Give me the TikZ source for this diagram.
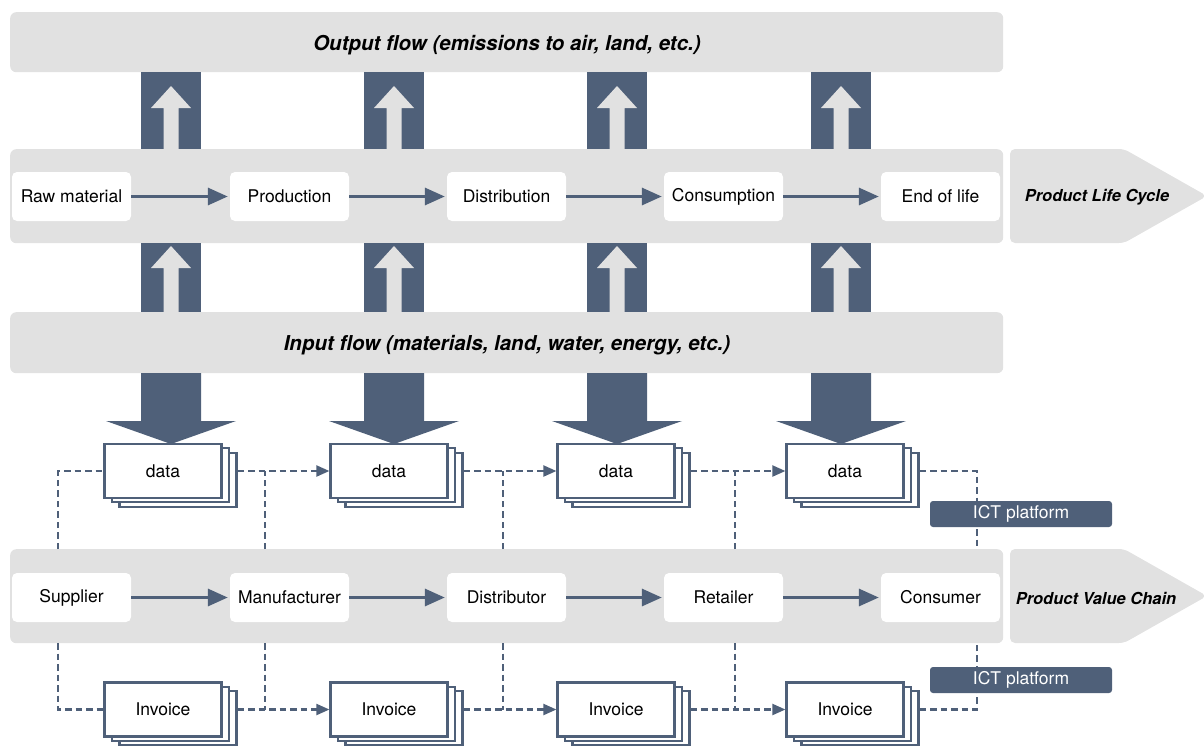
\documentclass[tikz,border=0pt]{standalone}
\usepackage{fontspec}
\setmainfont{TeX Gyre Heros}
\usetikzlibrary{arrows.meta,shadows}
\definecolor{slate}{HTML}{4F6079}
\definecolor{band}{HTML}{E1E1E1}

\begin{document}
\begin{tikzpicture}[x=1pt,y=-1pt,
  bar/.style={fill=band, rounded corners=6pt, anchor=north west, inner sep=0pt, minimum width=993pt},
  bartitle/.style={font=\fontsize{20.5}{24}\selectfont\bfseries\itshape, inner sep=0pt},
  stage/.style={fill=white, rounded corners=5pt, minimum width=119pt, minimum height=49pt,
    inner sep=0pt, font=\fontsize{17.5}{20}\selectfont},
  flow/.style={draw=slate, line width=3.2pt, -{Triangle[length=20pt,width=17pt]}, shorten >=2pt},
  stack/.style={draw=slate, line width=2.2pt, fill=white, minimum width=117pt, minimum height=54pt,
    inner sep=0pt, font=\fontsize{17.5}{20}\selectfont,
    general shadow={shadow xshift=15pt, shadow yshift=-8.6pt, draw=slate, fill=white, line width=2.2pt},
    general shadow={shadow xshift=7.5pt, shadow yshift=-4.3pt, draw=slate, fill=white, line width=2.2pt}},
  dashline/.style={draw=slate, line width=2.1pt, dash pattern=on 6.5pt off 4pt},
  dasharrow/.style={dashline, -{Triangle[length=13pt,width=11pt]}},
  ict/.style={fill=slate, rounded corners=3pt, text=white, minimum width=182pt, minimum height=26pt,
    inner sep=0pt, font=\fontsize{17.5}{20}\selectfont},
  chevlabel/.style={font=\fontsize{16.5}{20}\selectfont\bfseries\itshape, inner sep=0pt},
]
\useasboundingbox (0,0) rectangle (1204,745);

% horizontal bands
\node[bar, minimum height=60pt] (outbar) at (10,12) {};
\node[bar, minimum height=94pt] (lcbar) at (10,149) {};
\node[bar, minimum height=61pt] (inbar) at (10,312) {};
\node[bar, minimum height=94pt] (vcbar) at (10,549) {};
\node[bartitle] (outtitle) at (507,45) {Output flow (emissions to air, land, etc.)};
\node[bartitle] (intitle) at (507,345.5) {Input flow (materials, land, water, energy, etc.)};

% chevrons at the right
\fill[band, rounded corners=5pt] (1010,149) -- (1124,149) -- (1207,196) -- (1124,243) -- (1010,243) -- cycle;
\fill[band, rounded corners=5pt] (1010,549) -- (1124,549) -- (1207,596) -- (1124,643) -- (1010,643) -- cycle;
\node[chevlabel] (plc) at (1097,197.5) {Product Life Cycle};
\node[chevlabel] (pvc) at (1096,598.5) {Product Value Chain};

% block arrows for the material flows
\foreach \c in {171,394,617,841} {
  \fill[slate] (\c-30,72) rectangle (\c+30,149);
  \fill[band] (\c,86) -- (\c+20,108) -- (\c+7.5,108) -- (\c+7.5,149) -- (\c-7.5,149)
    -- (\c-7.5,108) -- (\c-20,108) -- cycle;
  \fill[slate] (\c-30,243) rectangle (\c+30,312);
  \fill[band] (\c,246) -- (\c+20,268) -- (\c+7.5,268) -- (\c+7.5,312) -- (\c-7.5,312)
    -- (\c-7.5,268) -- (\c-20,268) -- cycle;
  \fill[slate] (\c-30,373) -- (\c+30,373) -- (\c+30,421) -- (\c+65,421) -- (\c,444)
    -- (\c-65,421) -- (\c-30,421) -- cycle;
}

% product life cycle
\node[stage] (raw)  at (71.5,196.5)  {Raw material};
\node[stage] (prod) at (289.5,196.5) {Production};
\node[stage] (dist) at (506.5,196.5) {Distribution};
\node[stage] (cons) at (723.5,196.5) {Consumption};
\node[stage] (eol)  at (940.5,196.5) {End of life};
\draw[flow] (raw) -- (prod);
\draw[flow] (prod) -- (dist);
\draw[flow] (dist) -- (cons);
\draw[flow] (cons) -- (eol);

% product value chain
\node[stage] (sup) at (71.5,597.5)  {Supplier};
\node[stage] (man) at (289.5,597.5) {Manufacturer};
\node[stage] (dtr) at (506.5,597.5) {Distributor};
\node[stage] (ret) at (723.5,597.5) {Retailer};
\node[stage] (csm) at (940.5,597.5) {Consumer};
\draw[flow] (sup) -- (man);
\draw[flow] (man) -- (dtr);
\draw[flow] (dtr) -- (ret);
\draw[flow] (ret) -- (csm);

% data and invoice stacks
\node[stack] (d1) at (163,471) {data};
\node[stack] (d2) at (389,471) {data};
\node[stack] (d3) at (616,471) {data};
\node[stack] (d4) at (845,471) {data};
\node[stack] (i1) at (163,709.5) {Invoice};
\node[stack] (i2) at (389,709.5) {Invoice};
\node[stack] (i3) at (616,709.5) {Invoice};
\node[stack] (i4) at (845,709.5) {Invoice};

% junction points on the value chain band
\coordinate (ja) at (58,549);  \coordinate (ka) at (58,643);
\coordinate (jb) at (265,549); \coordinate (kb) at (265,643);
\coordinate (jc) at (503,549); \coordinate (kc) at (503,643);
\coordinate (jd) at (735,549); \coordinate (kd) at (735,643);
\coordinate (je) at (977,549); \coordinate (ke) at (977,643);

% data exchange
\draw[dashline] (ja) |- (d1.west);
\draw[dasharrow] ([xshift=15pt]d1.east) -- (d2.west);
\draw[dashline] (jb) -- (jb |- d1.east);
\draw[dasharrow] ([xshift=15pt]d2.east) -- (d3.west);
\draw[dashline] (jc) -- (jc |- d2.east);
\draw[dasharrow] ([xshift=15pt]d3.east) -- (d4.west);
\draw[dashline] (jd) -- (jd |- d3.east);
\draw[dashline] ([xshift=15pt]d4.east) -| (je);

% invoice exchange
\draw[dashline] (ka) |- (i1.west);
\draw[dasharrow] ([xshift=15pt]i1.east) -- (i2.west);
\draw[dashline] (kb) -- (kb |- i1.east);
\draw[dasharrow] ([xshift=15pt]i2.east) -- (i3.west);
\draw[dashline] (kc) -- (kc |- i2.east);
\draw[dasharrow] ([xshift=15pt]i3.east) -- (i4.west);
\draw[dashline] (kd) -- (kd |- i3.east);
\draw[dashline] ([xshift=15pt]i4.east) -| (ke);

% platform labels
\node[ict] (ict1) at (1021,514) {ICT platform};
\node[ict] (ict2) at (1021,680) {ICT platform};
\end{tikzpicture}
\end{document}
